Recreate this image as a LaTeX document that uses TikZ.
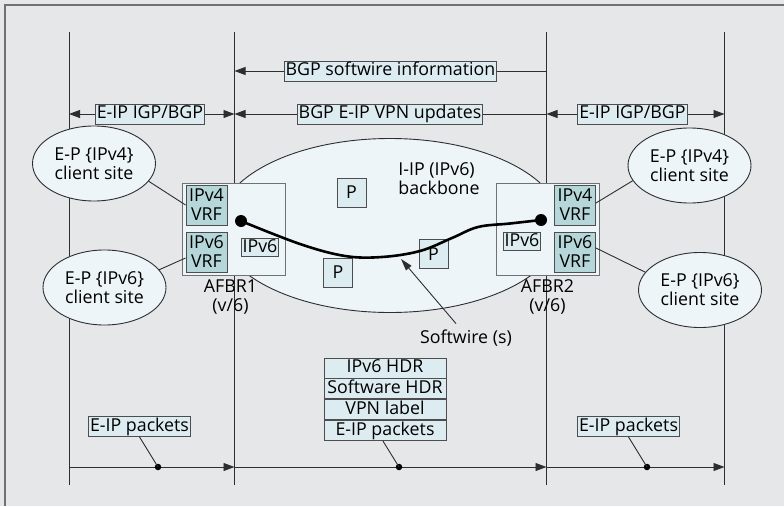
\documentclass[tikz,border=0pt]{standalone}
\usepackage{fontspec}
\setmainfont{Open Sans}
\usetikzlibrary{arrows.meta,shapes.geometric}
\definecolor{bg}{HTML}{E6E7E9}
\definecolor{lblue}{HTML}{DDECF1}
\definecolor{efill}{HTML}{EDF5F8}
\definecolor{vrfc}{HTML}{B5D7DA}
\definecolor{framec}{HTML}{707173}
\definecolor{linec}{HTML}{2E2E30}
\begin{document}
\begin{tikzpicture}[x=1pt,y=-1pt,
  txt/.style={font=\fontsize{17.8}{19}\selectfont},
  lbl/.style={txt,draw=linec!85,fill=lblue,line width=0.9pt,inner xsep=1.5pt,inner ysep=1.5pt,text height=13pt,text depth=4pt},
  ell/.style={txt,ellipse,draw=linec,fill=efill,line width=0.9pt,minimum width=123pt,minimum height=75pt,align=center,inner sep=0pt},
  vrf/.style={txt,draw=linec!85,fill=vrfc,line width=0.9pt,minimum width=41pt,minimum height=40pt,align=center,inner sep=0pt},
  pbox/.style={txt,draw=linec!85,fill=lblue,line width=0.9pt,minimum width=29pt,minimum height=29pt,inner sep=0pt},
  afbr/.style={draw=framec,fill=efill,line width=1pt,minimum width=103pt,minimum height=92pt,inner sep=0pt},
  stk/.style={txt,draw=linec!85,fill=lblue,line width=0.9pt,minimum width=122pt,minimum height=20pt,inner sep=0pt,text height=13pt,text depth=4pt},
  vline/.style={draw=linec,line width=0.9pt},
  conn/.style={draw=linec,line width=0.9pt},
  arr/.style={draw=linec,line width=0.9pt,-{Triangle[length=11pt,width=8pt]}},
  bigdot/.style={circle,fill=black,inner sep=0pt,minimum size=12pt},
  smalldot/.style={circle,fill=black,inner sep=0pt,minimum size=6.5pt}]
\path[fill=bg] (0,0) rectangle (784,506);
\useasboundingbox (0,0) rectangle (784,506);
\draw[framec,line width=1.2pt] (5,506) -- (5,5) -- (784,5);

% vertical lines
\coordinate (v1t) at (69,32);  \coordinate (v1b) at (69,485);
\coordinate (v2t) at (234.5,32); \coordinate (v2b) at (234.5,485);
\coordinate (v3t) at (546.5,32); \coordinate (v3b) at (546.5,485);
\coordinate (v4t) at (724.5,32); \coordinate (v4b) at (724.5,485);
\draw[vline] (v1t) -- (v1b);
\draw[vline] (v2t) -- (v2b);
\draw[vline] (v3t) -- (v3b);
\draw[vline] (v4t) -- (v4b);

% top signalling rows
\node[lbl] (bgpsw) at (390.5,71) {BGP softwire information};
\draw[arr] (bgpsw.west) -- (v2t |- bgpsw);
\draw[conn] (bgpsw.east) -- (v3t |- bgpsw);

\node[lbl] (igpL) at (150,114) {E-IP IGP/BGP};
\draw[arr] (igpL.west) -- (v1t |- igpL);
\draw[arr] (igpL.east) -- (v2t |- igpL);

\node[lbl] (vpn) at (390,114) {BGP E-IP VPN updates};
\draw[arr] (vpn.west) -- (v2t |- vpn);
\draw[conn] (vpn.east) -- (v3t |- vpn);

\node[lbl] (igpR) at (632.5,114) {E-IP IGP/BGP};
\draw[arr] (igpR.west) -- (v3t |- igpR);
\draw[arr] (igpR.east) -- (v4t |- igpR);

% backbone
\node[ellipse,draw=linec,fill=efill,line width=0.9pt,minimum width=344pt,minimum height=174pt,inner sep=0pt] (bb) at (390,225.5) {};
\node[txt,align=left,inner sep=0pt] (bbtxt) at (439,179) {I-IP (IPv6)\\backbone};
\node[pbox] (p1) at (351.5,192.5) {P};
\node[pbox] (p2) at (338,272.5) {P};
\node[pbox] (p3) at (433.5,254) {P};

% AFBR1
\node[afbr] (afbr1) at (233.5,229) {};
\node[vrf] (vrf4L) at (206.5,205) {IPv4\\VRF};
\node[vrf] (vrf6L) at (206.5,252) {IPv6\\VRF};
\node[lbl,inner xsep=1.5pt,text height=12.5pt,text depth=3pt,inner ysep=1pt] (ip6L) at (260,247.5) {IPv6};
\node[bigdot] (dot1) at (241,221) {};
\node[txt,align=center,inner sep=0pt] (afbr1lbl) at (230.5,297) {AFBR1\\(v/6)};

% AFBR2
\node[afbr] (afbr2) at (547.5,229) {};
\node[vrf] (vrf4R) at (575,205) {IPv4\\VRF};
\node[vrf] (vrf6R) at (575,252) {IPv6\\VRF};
\node[lbl,inner xsep=1.5pt,text height=12.5pt,text depth=3pt,inner ysep=1pt] (ip6R) at (522,241.5) {IPv6};
\node[bigdot] (dot2) at (541,220) {};
\node[txt,align=center,inner sep=0pt] (afbr2lbl) at (547.5,297) {AFBR2\\(v/6)};

% softwire
\draw[black,line width=2.6pt,line cap=round] plot[smooth,tension=0.6] coordinates {(dot1.center) (300,244) (345,256) (382,257) (420,251) (452,238) (478,227) (510,223.5) (dot2.center)};
\node[txt,inner sep=0pt] (swlbl) at (466,338) {Softwire (s)};
\coordinate (swtip) at (401,259);
\draw[conn,-{Triangle[length=12pt,width=7pt]}] ([shift={(-10pt,6pt)}]swlbl.north) -- (swtip);

% client sites
\node[ell] (epl4) at (94,163.5) {E-P \{IPv4\}\\client site};
\node[ell] (epl6) at (104.5,287.5) {E-P \{IPv6\}\\client site};
\node[ell] (epr4) at (689.5,165.5) {E-P \{IPv4\}\\client site};
\node[ell] (epr6) at (700,290) {E-P \{IPv6\}\\client site};
\draw[conn] (epl4.-18) -- (vrf4L.west);
\draw[conn] (epl6.18) -- ([yshift=-6pt]vrf6L.west);
\draw[conn] (epr4.195) -- ([yshift=2pt]vrf4R.east);
\draw[conn] (epr6.162) -- ([yshift=4pt]vrf6R.east);

% bottom data plane
\coordinate (b1) at (69,467);
\coordinate (b2) at (234.5,467);
\coordinate (b3) at (546.5,467);
\coordinate (b4) at (724.5,467);
\draw[arr] (b1) -- (b2);
\draw[arr] (b2) -- (b3);
\draw[arr] (b3) -- (b4);
\node[smalldot] (d1) at (158,467) {};
\node[smalldot] (d2) at (399,467) {};
\node[smalldot] (d3) at (647,467) {};

\node[lbl] (epk1) at (139.5,426.5) {E-IP packets};
\draw[conn] (epk1.south) -- (d1.center);
\node[lbl] (epk3) at (628.5,426.5) {E-IP packets};
\draw[conn] (epk3.south) -- (d3.center);

\node[stk,anchor=north] (s1) at (385,357.5) {IPv6 HDR};
\node[stk,anchor=north] (s2) at (s1.south) {Software HDR};
\node[stk,anchor=north] (s3) at (s2.south) {VPN label};
\node[stk,anchor=north] (s4) at (s3.south) {E-IP packets};
\draw[conn] ([xshift=-2pt]s4.south) -- (d2.center);
\end{tikzpicture}
\end{document}
